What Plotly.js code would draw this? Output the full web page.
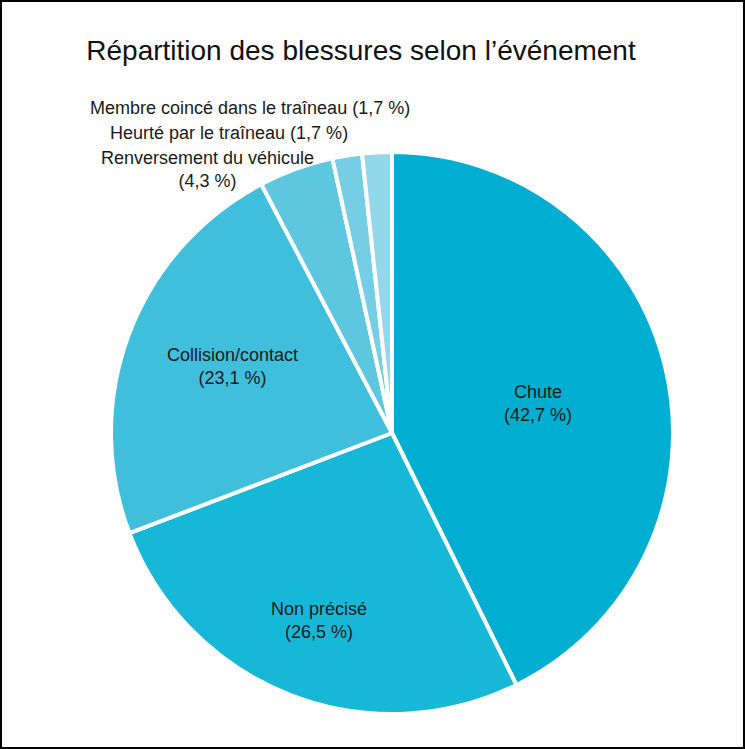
<!DOCTYPE html>
<html>
<head>
<meta charset="utf-8">
<script src="https://cdn.plot.ly/plotly-3.0.1.min.js"></script>
<style>
html,body{margin:0;padding:0;background:#fff;}
#chart{width:745px;height:749px;}
</style>
</head>
<body>
<div id="chart"></div>
<script>
// Data
const categories = ["Chute", "Non précisé", "Collision/contact", "Renversement du véhicule", "Heurté par le traîneau", "Membre coincé dans le traîneau"];
const values = [42.7, 26.5, 23.1, 4.3, 1.7, 1.7];
const colors = ["#00AED1", "#17B8D7", "#40BFDD", "#5EC7E0", "#76CEE4", "#93D7EA"];

// Label layout (positions in pixels, converted to paper coordinates)
const W = 745, H = 749;
const labelPos = [
  {x: 538, y: 403, twoLines: true},
  {x: 319, y: 620, twoLines: true},
  {x: 232, y: 366, twoLines: true},
  {x: 207, y: 169, twoLines: true},
  {x: 229, y: 133, twoLines: false},
  {x: 250, y: 108, twoLines: false}
];

function fmt(v){ return v.toFixed(1).replace('.', ',') + ' %'; }

const annotations = categories.map((c, i) => {
  const p = labelPos[i];
  const txt = p.twoLines ? c + '<br>(' + fmt(values[i]) + ')' : c + ' (' + fmt(values[i]) + ')';
  return {
    text: txt,
    x: p.x / W, y: 1 - p.y / H,
    xref: 'paper', yref: 'paper',
    xanchor: 'center', yanchor: 'middle',
    showarrow: false,
    align: 'center',
    font: {family: 'Liberation Sans, Arial, sans-serif', size: 18, color: '#1a1a1a'}
  };
});

const cx = 392, cy = 433, r = 281;
const trace = {
  type: 'pie',
  labels: categories,
  values: values,
  sort: false,
  direction: 'clockwise',
  rotation: 0,
  textinfo: 'none',
  hoverinfo: 'skip',
  marker: {colors: colors, line: {color: '#ffffff', width: 4}},
  domain: {x: [(cx - r) / W, (cx + r) / W], y: [1 - (cy + r) / H, 1 - (cy - r) / H]},
  showlegend: false
};

const layout = {
  width: W, height: H,
  margin: {l: 0, r: 0, t: 0, b: 0},
  paper_bgcolor: '#ffffff',
  title: {
    text: "Répartition des blessures selon l’événement",
    x: 361 / W, xanchor: 'center',
    y: 1 - 50 / H, yanchor: 'middle',
    font: {family: 'Liberation Sans, Arial, sans-serif', size: 28, color: '#111111'}
  },
  annotations: annotations,
  shapes: [{
    type: 'rect', xref: 'paper', yref: 'paper',
    x0: 1 / W, x1: 1 - 1 / W, y0: 1 / H, y1: 1 - 1 / H,
    line: {color: '#000000', width: 2}
  }]
};

Plotly.newPlot('chart', [trace], layout, {displayModeBar: false, staticPlot: true});
</script>
</body>
</html>
